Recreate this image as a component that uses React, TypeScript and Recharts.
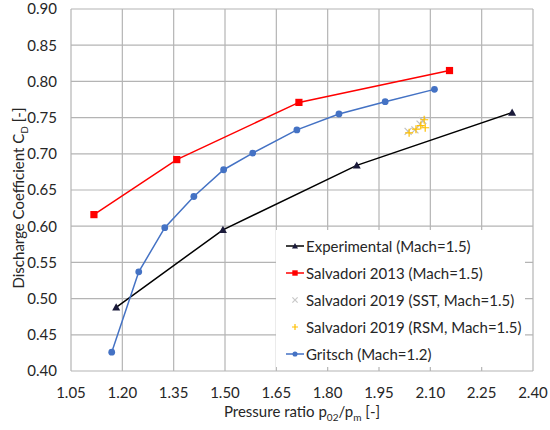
import {
  ScatterChart,
  Scatter,
  XAxis,
  YAxis,
  CartesianGrid,
  Label,
} from 'recharts';

// values
const experimental = [
  { x: 1.182, y: 0.488 },
  { x: 1.494, y: 0.595 },
  { x: 1.885, y: 0.684 },
  { x: 2.339, y: 0.757 },
];

const salvadori2013 = [
  { x: 1.117, y: 0.616 },
  { x: 1.359, y: 0.692 },
  { x: 1.716, y: 0.771 },
  { x: 2.156, y: 0.815 },
];

const salvadoriSST = [
  { x: 2.035, y: 0.731 },
  { x: 2.055, y: 0.733 },
  { x: 2.07, y: 0.741 },
  { x: 2.078, y: 0.746 },
];

const salvadoriRSM = [
  { x: 2.038, y: 0.729 },
  { x: 2.058, y: 0.734 },
  { x: 2.072, y: 0.739 },
  { x: 2.085, y: 0.736 },
  { x: 2.082, y: 0.747 },
];

const gritsch = [
  { x: 1.169, y: 0.426 },
  { x: 1.248, y: 0.537 },
  { x: 1.324, y: 0.598 },
  { x: 1.409, y: 0.641 },
  { x: 1.496, y: 0.678 },
  { x: 1.581, y: 0.701 },
  { x: 1.71, y: 0.733 },
  { x: 1.833, y: 0.755 },
  { x: 1.968, y: 0.772 },
  { x: 2.112, y: 0.789 },
];

const xTicks = [1.05, 1.2, 1.35, 1.5, 1.65, 1.8, 1.95, 2.1, 2.25, 2.4];
const yTicks = [0.4, 0.45, 0.5, 0.55, 0.6, 0.65, 0.7, 0.75, 0.8, 0.85, 0.9];

const legendItems = [
  { name: 'Experimental (Mach=1.5)', color: '#000000', marker: 'triangle', line: true },
  { name: 'Salvadori 2013 (Mach=1.5)', color: '#ff0000', marker: 'square', line: true },
  { name: 'Salvadori 2019 (SST, Mach=1.5)', color: '#c8c8c8', marker: 'x', line: false },
  { name: 'Salvadori 2019 (RSM, Mach=1.5)', color: '#ffc000', marker: 'plus', line: false },
  { name: 'Gritsch (Mach=1.2)', color: '#4472c4', marker: 'circle', line: true },
];

const FONT = 'Lato, "Open Sans", sans-serif';
const TEXT = '#262626';

function Marker({ kind, cx, cy, color, s = 1 }: any) {
  if (kind === 'triangle') {
    const r = 4 * s;
    return <path d={`M${cx},${cy - r} L${cx + r},${cy + r * 0.8} L${cx - r},${cy + r * 0.8} Z`} fill="#1a1a3a" />;
  }
  if (kind === 'square') {
    const r = 3.6 * s;
    return <rect x={cx - r} y={cy - r} width={r * 2} height={r * 2} fill={color} />;
  }
  if (kind === 'circle') {
    return <circle cx={cx} cy={cy} r={3.4 * s} fill={color} />;
  }
  if (kind === 'x') {
    const r = 3.5 * s;
    return (
      <path
        d={`M${cx - r},${cy - r} L${cx + r},${cy + r} M${cx - r},${cy + r} L${cx + r},${cy - r}`}
        stroke={color}
        strokeWidth={1.2}
      />
    );
  }
  const r = 4 * s;
  return (
    <path
      d={`M${cx - r},${cy} L${cx + r},${cy} M${cx},${cy - r} L${cx},${cy + r}`}
      stroke={color}
      strokeWidth={1.2}
    />
  );
}

const shapeOf = (kind: string, color: string) => (props: any) =>
  <Marker kind={kind} cx={props.cx} cy={props.cy} color={color} />;

function LegendBox() {
  return (
    <div
      style={{
        position: 'absolute',
        left: 276,
        top: 230,
        background: '#fff',
        width: 249,
        height: 137,
        boxSizing: 'border-box',
        paddingTop: 2,
        fontFamily: FONT,
        fontSize: 15,
        color: TEXT,
      }}
    >
      {legendItems.map((it) => (
        <div key={it.name} style={{ display: 'flex', alignItems: 'center', height: 27 }}>
          <svg width={22} height={14} style={{ marginLeft: 8 }}>
            {it.line && <line x1={2} y1={7} x2={20} y2={7} stroke={it.color} strokeWidth={1.5} />}
            <Marker kind={it.marker} cx={11} cy={7} color={it.color} s={0.75} />
          </svg>
          <span style={{ whiteSpace: 'nowrap' }}>{it.name}</span>
        </div>
      ))}
    </div>
  );
}

function XTitle({ viewBox }: any) {
  const cx = viewBox.x + viewBox.width / 2;
  return (
    <text x={cx} y={viewBox.y + 46} textAnchor="middle" fontFamily={FONT} fontSize={15} fill={TEXT}>
      Pressure ratio p
      <tspan dy={4} fontSize={10}>02</tspan>
      <tspan dy={-4}>/p</tspan>
      <tspan dy={4} fontSize={10}>m</tspan>
      <tspan dy={-4}> [-]</tspan>
    </text>
  );
}

function YTitle({ viewBox }: any) {
  const x = 23.5;
  const y = viewBox.y + viewBox.height / 2 + 8;
  return (
    <text
      x={x}
      y={y}
      transform={`rotate(-90, ${x}, ${y})`}
      textAnchor="middle"
      fontFamily={FONT}
      fontSize={15}
      fill={TEXT}
    >
      Discharge Coefficient C
      <tspan dy={4} fontSize={10}>D</tspan>
      <tspan dy={-4}> [-]</tspan>
    </text>
  );
}

export default function App() {
  return (
    <div style={{ position: 'absolute', left: 0, top: 0, width: 550, height: 430, background: '#fff' }}>
      <ScatterChart width={550} height={430} margin={{ top: 9, right: 17, bottom: 0, left: 0 }}>
        <CartesianGrid stroke="#b4b4b4" strokeWidth={1.2} />
        <XAxis
          dataKey="x"
          type="number"
          domain={[1.05, 2.4]}
          ticks={xTicks}
          tickFormatter={(v: number) => v.toFixed(2)}
          axisLine={false}
          tickLine={false}
          tickSize={0}
          tickMargin={16}
          height={59}
          tick={{ fill: TEXT, fontSize: 15, fontFamily: FONT }}
          interval={0}
          allowDataOverflow
        >
          <Label content={(p: any) => <XTitle viewBox={p.viewBox} />} />
        </XAxis>
        <YAxis
          dataKey="y"
          type="number"
          domain={[0.4, 0.9]}
          ticks={yTicks}
          tickFormatter={(v: number) => v.toFixed(2)}
          axisLine={false}
          tickLine={false}
          tickSize={0}
          tickMargin={14}
          width={71}
          tick={{ fill: TEXT, fontSize: 15, fontFamily: FONT }}
          interval={0}
          allowDataOverflow
        >
          <Label content={(p: any) => <YTitle viewBox={p.viewBox} />} />
        </YAxis>
        <Scatter
          name="Experimental (Mach=1.5)"
          data={experimental}
          line={{ stroke: '#000', strokeWidth: 1.5 }}
          lineType="joint"
          shape={shapeOf('triangle', '#000')}
          isAnimationActive={false}
        />
        <Scatter
          name="Salvadori 2013 (Mach=1.5)"
          data={salvadori2013}
          line={{ stroke: '#ff0000', strokeWidth: 1.5 }}
          lineType="joint"
          shape={shapeOf('square', '#ff0000')}
          isAnimationActive={false}
        />
        <Scatter
          name="Salvadori 2019 (SST, Mach=1.5)"
          data={salvadoriSST}
          shape={shapeOf('x', '#c0c0c0')}
          isAnimationActive={false}
        />
        <Scatter
          name="Salvadori 2019 (RSM, Mach=1.5)"
          data={salvadoriRSM}
          shape={shapeOf('plus', '#ffc000')}
          isAnimationActive={false}
        />
        <Scatter
          name="Gritsch (Mach=1.2)"
          data={gritsch}
          line={{ stroke: '#4472c4', strokeWidth: 1.5 }}
          lineType="joint"
          shape={shapeOf('circle', '#4472c4')}
          isAnimationActive={false}
        />
      </ScatterChart>
      <LegendBox />
    </div>
  );
}
